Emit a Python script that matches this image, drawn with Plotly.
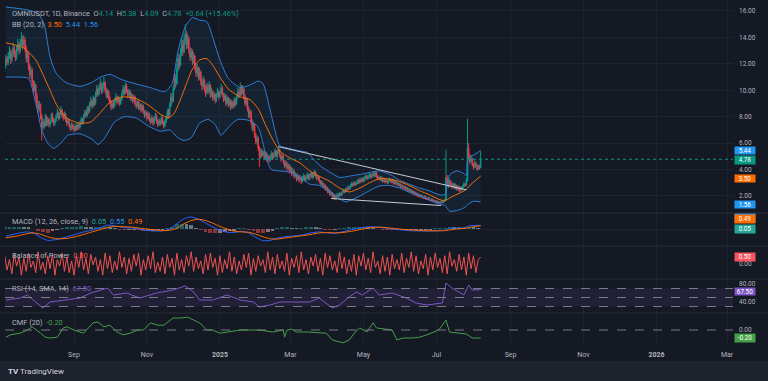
import plotly.graph_objects as go
from plotly.subplots import make_subplots
import pandas as pd

# ---------------- data ----------------
start_date = "2024-07-05"
first_open = 11.6
close = [
11.9,12.4,12.1,12.6,12.9,12.3,12.7,13.2,12.8,12.5,
13.1,13.5,13.0,13.6,13.9,13.4,13.8,13.2,12.4,12.7,
11.8,11.2,11.5,10.6,10.1,10.4,9.6,9.0,8.6,8.9,
8.1,7.2,7.6,7.3,7.9,7.5,7.8,7.4,7.6,8.1,
7.8,7.5,7.7,8.0,8.3,7.9,8.2,8.5,8.1,7.9,
8.2,7.8,7.5,7.7,7.3,7.1,7.4,7.2,7.0,7.3,
7.1,7.4,7.2,7.5,7.8,7.6,8.0,8.3,8.1,8.6,
8.4,8.9,9.2,8.8,9.4,9.0,9.6,10.1,9.7,10.2,
10.5,9.9,10.3,10.6,10.0,9.6,9.9,9.4,9.1,8.7,
9.0,8.8,9.2,9.5,9.1,9.4,9.0,9.3,9.7,10.1,
9.8,10.3,10.0,9.6,9.9,9.4,9.6,9.2,9.5,9.0,
8.8,9.1,8.7,8.9,8.5,8.8,8.4,8.1,8.3,7.9,
8.2,7.8,7.6,7.9,7.5,7.8,8.1,7.7,7.4,7.7,
7.5,7.9,7.6,7.3,7.6,7.9,8.4,8.1,8.8,9.5,
9.2,10.1,10.9,10.5,11.6,12.4,11.9,12.8,13.5,12.9,
13.8,14.2,13.4,13.9,13.1,12.5,12.9,12.2,12.6,11.8,
11.3,11.7,11.0,11.4,10.7,10.3,10.8,10.2,9.8,10.3,
9.9,10.4,9.6,9.9,9.4,9.7,9.2,9.6,9.9,9.5,
9.8,10.2,9.7,9.3,9.6,9.0,9.4,8.9,9.2,8.7,
9.1,8.8,9.3,9.0,9.5,9.9,9.6,10.2,9.8,10.1,
9.5,9.0,9.3,8.6,8.1,8.4,7.6,7.1,7.4,6.6,
6.1,6.4,5.6,5.0,5.4,5.1,5.3,4.9,5.2,4.8,
5.0,4.7,4.9,5.2,4.9,5.1,5.4,5.0,5.3,5.5,
5.1,4.8,5.0,4.6,4.3,4.5,4.1,4.3,3.9,4.1,
3.7,3.9,3.5,3.6,3.3,3.5,3.2,3.4,3.1,3.3,
3.5,3.2,3.4,3.6,3.3,3.5,3.7,3.4,3.6,3.8,
3.5,3.3,3.4,3.1,2.9,3.0,2.7,2.8,2.5,2.6,
2.3,2.4,2.1,2.2,1.95,2.05,1.85,1.95,2.1,1.98,
2.15,2.05,2.25,2.4,2.3,2.5,2.45,2.65,2.55,2.75,
2.9,2.8,3.0,2.85,2.95,3.15,3.0,3.25,3.1,3.3,
3.15,3.35,3.5,3.3,3.45,3.6,3.4,3.55,3.7,3.5,
3.75,3.45,3.3,3.4,3.2,3.35,3.1,3.25,3.05,3.2,
3.0,3.15,3.25,3.05,3.2,2.95,3.1,2.9,3.0,2.8,
2.9,2.7,2.8,2.6,2.7,2.5,2.6,2.4,2.5,2.3,
2.4,2.2,2.3,2.1,2.2,2.0,2.1,1.95,2.05,1.9,
1.85,1.95,1.8,1.75,1.85,1.7,1.65,1.75,1.6,1.65,
1.55,1.6,1.5,1.55,1.48,1.58,1.52,1.6,1.7,3.4,
3.0,2.8,3.1,2.9,2.7,2.9,2.6,2.8,2.5,2.7,
2.4,2.6,2.5,2.7,2.9,2.8,3.2,5.6,5.0,4.6,
4.8,4.4,4.2,4.5,4.3,4.0,4.25,4.14,4.78]
high = [
12.2,12.7,12.6,12.9,13.3,13.1,13.0,13.6,13.4,13.0,
13.4,13.9,13.7,13.9,14.4,14.1,14.2,14.0,13.4,13.0,
12.9,12.0,11.8,11.7,10.8,10.7,10.5,9.8,9.2,9.2,
9.0,8.2,7.9,7.8,8.2,8.1,8.0,7.9,7.8,8.3,
8.3,7.9,7.9,8.2,8.6,8.4,8.4,8.8,8.6,8.3,
8.4,8.3,7.9,7.9,7.8,7.4,7.6,7.5,7.3,7.5,
7.4,7.6,7.5,7.7,8.0,7.9,8.2,8.5,8.5,8.8,
8.8,9.1,9.5,9.3,9.6,9.5,9.9,10.4,10.3,10.5,
10.9,10.6,10.6,11.0,10.7,10.2,10.1,10.0,9.6,9.2,
9.2,9.2,9.4,9.8,9.6,9.6,9.5,9.5,9.9,10.4,
10.3,10.6,10.5,10.1,10.1,10.0,9.8,9.7,9.7,9.6,
9.2,9.3,9.2,9.1,9.0,9.0,8.9,8.5,8.5,8.4,
8.4,8.3,7.9,8.1,8.0,8.0,8.3,8.2,7.8,7.9,
7.8,8.1,8.0,7.7,7.8,8.1,8.6,8.6,9.1,9.8,
9.8,10.4,11.3,11.2,12.0,12.8,12.7,13.2,14.0,13.8,
14.3,15.0,14.5,14.3,14.1,13.3,13.2,13.1,12.9,12.7,
12.0,12.0,11.8,11.7,11.5,10.9,11.1,10.9,10.4,10.6,
10.5,10.7,10.5,10.2,10.0,9.9,9.8,9.8,10.2,10.0,
10.0,10.5,10.3,9.8,9.8,9.7,9.6,9.5,9.4,9.3,
9.3,9.2,9.5,9.4,9.7,10.2,10.1,10.6,10.4,10.4,
10.2,9.7,9.5,9.4,8.8,8.6,8.5,7.8,7.6,7.5,
6.8,6.6,6.5,5.8,5.6,5.6,5.5,5.4,5.4,5.3,
5.2,5.1,5.1,5.4,5.3,5.3,5.6,5.5,5.5,5.8,
5.6,5.2,5.2,5.1,4.7,4.7,4.6,4.5,4.4,4.3,
4.2,4.1,4.0,3.8,3.7,3.7,3.6,3.6,3.5,3.5,
3.7,3.6,3.6,3.8,3.7,3.7,3.9,3.8,3.8,4.0,
3.9,3.6,3.6,3.5,3.2,3.2,3.1,2.95,2.9,2.75,
2.7,2.55,2.5,2.35,2.3,2.2,2.15,2.1,2.25,2.2,
2.3,2.25,2.4,2.55,2.5,2.65,2.6,2.8,2.75,2.9,
3.05,3.0,3.15,3.1,3.1,3.3,3.25,3.4,3.35,3.45,
3.4,3.5,3.65,3.6,3.6,3.75,3.7,3.7,3.85,3.8,
3.9,3.85,3.55,3.55,3.5,3.5,3.4,3.4,3.3,3.35,
3.25,3.3,3.4,3.3,3.35,3.25,3.2,3.15,3.1,3.05,
3.0,2.95,2.9,2.85,2.8,2.75,2.7,2.65,2.6,2.55,
2.5,2.45,2.4,2.35,2.3,2.25,2.2,2.15,2.15,2.1,
1.97,2.05,2.0,1.87,1.95,1.9,1.76,1.85,1.8,1.72,
1.7,1.68,1.65,1.62,1.6,1.66,1.63,1.68,1.82,5.5,
3.6,3.2,3.3,3.2,3.0,3.05,2.95,2.95,2.85,2.85,
2.75,2.75,2.7,2.85,3.05,3.0,3.4,7.85,6.0,5.2,
5.1,4.9,4.5,4.7,4.6,4.4,4.4,4.35,5.38]
low = [
11.4,11.7,11.9,11.9,12.4,12.0,12.1,12.5,12.5,12.2,
12.3,12.9,12.7,12.8,13.3,13.1,13.2,12.9,12.1,12.1,
11.5,10.9,10.9,10.3,9.8,9.9,9.3,8.7,8.3,8.4,
7.8,6.2,7.0,7.1,7.2,7.3,7.3,7.2,7.2,7.5,
7.6,7.3,7.3,7.6,7.9,7.7,7.8,8.1,7.9,7.7,
7.8,7.6,7.3,7.4,7.1,6.9,7.0,7.0,6.8,6.9,
6.9,7.0,7.0,7.1,7.4,7.4,7.5,7.9,7.9,8.0,
8.2,8.3,8.8,8.6,8.7,8.8,8.9,9.5,9.5,9.6,
10.0,9.7,9.8,10.1,9.8,9.4,9.4,9.2,8.9,8.5,
8.6,8.6,8.7,9.1,8.9,9.0,8.8,8.9,9.2,9.6,
9.6,9.7,9.8,9.4,9.5,9.2,9.2,9.0,9.1,8.8,
8.6,8.7,8.5,8.5,8.3,8.4,8.2,7.9,8.0,7.7,
7.8,7.6,7.4,7.5,7.3,7.4,7.7,7.5,7.2,7.3,
7.3,7.4,7.4,7.1,7.2,7.5,7.8,7.9,8.0,8.7,
9.0,9.1,10.0,10.2,10.4,11.4,11.6,11.8,12.6,12.6,
12.8,13.5,13.1,13.2,12.8,12.2,12.3,11.9,12.0,11.5,
11.0,11.1,10.7,10.8,10.4,10.0,10.1,9.9,9.5,9.7,
9.7,9.8,9.4,9.5,9.2,9.3,9.0,9.1,9.5,9.3,
9.4,9.7,9.5,9.1,9.2,8.8,8.9,8.7,8.8,8.5,
8.6,8.6,8.7,8.8,8.9,9.4,9.4,9.5,9.6,9.7,
9.3,8.8,8.8,8.4,7.9,7.9,7.4,6.9,6.9,6.4,
5.9,5.9,5.4,4.2,4.8,4.9,5.0,4.7,4.8,4.6,
4.7,4.5,4.6,4.8,4.7,4.8,5.0,4.9,4.9,5.2,
4.9,4.6,4.7,4.4,4.1,4.2,3.9,4.0,3.7,3.8,
3.5,3.6,3.3,3.4,3.1,3.2,3.0,3.1,2.9,3.0,
3.2,3.1,3.1,3.3,3.2,3.2,3.4,3.3,3.3,3.5,
3.4,3.2,3.2,3.0,2.8,2.8,2.6,2.6,2.4,2.4,
2.2,2.2,2.0,2.0,1.8,1.85,1.7,1.75,1.9,1.9,
1.92,1.98,2.0,2.2,2.2,2.25,2.35,2.4,2.45,2.5,
2.7,2.7,2.75,2.75,2.8,2.9,2.9,2.95,3.0,3.05,
3.05,3.1,3.3,3.2,3.25,3.4,3.3,3.35,3.5,3.4,
3.45,3.35,3.2,3.25,3.1,3.15,3.0,3.05,2.95,3.0,
2.9,2.95,3.1,2.95,3.0,2.85,2.9,2.8,2.85,2.7,
2.75,2.6,2.65,2.5,2.55,2.4,2.45,2.3,2.35,2.2,
2.25,2.1,2.15,2.0,2.05,1.92,1.95,1.88,1.9,1.82,
1.78,1.8,1.72,1.68,1.7,1.63,1.58,1.6,1.53,1.55,
1.48,1.5,1.43,1.45,1.42,1.44,1.46,1.48,1.56,1.65,
2.8,2.6,2.7,2.75,2.55,2.6,2.5,2.5,2.4,2.45,
2.3,2.35,2.4,2.45,2.65,2.7,2.75,3.1,4.7,4.4,
4.5,4.2,4.0,4.1,4.1,3.9,3.95,4.0,4.09]

# Bollinger Bands (20, 2) read at sample days (day index from start_date)
bb_up_idx = [1,18,28,33,38,43,51,63,73,80,88,98,109,122,134,140,145,151,157,163,169,174,180,187,197,205,212,216,222,227,230,238,247,253,259,265,272,280,288,301,313,323,330,338,347,355,363,368,372,378,384,386,387,390,394,398]
bb_upper = [16.3,16.1,15.8,15.0,12.5,11.3,10.6,10.3,10.6,11.0,11.2,10.8,10.5,10.2,9.9,10.5,13.0,14.8,15.5,15.3,15.2,14.0,12.3,10.9,10.2,10.4,10.7,10.5,8.5,6.6,5.8,5.6,5.4,5.3,4.7,4.2,3.8,3.4,3.5,3.7,3.9,3.6,3.2,2.9,2.6,2.4,2.1,2.1,3.6,3.9,3.7,3.55,4.6,5.0,5.2,5.44]
bb_mid_idx = [1,16,26,33,38,44,52,63,72,80,88,98,109,120,130,137,142,147,152,157,163,169,174,180,187,197,205,212,218,224,230,238,247,255,263,272,280,288,297,305,313,321,330,338,347,355,363,368,374,380,386,390,394,398]
bb_basis = [13.6,13.2,12.3,11.0,10.0,8.8,7.9,7.5,7.6,8.3,9.1,9.5,9.4,8.9,8.2,7.9,8.3,9.3,10.5,11.6,12.3,12.4,11.9,11.0,10.1,9.5,9.3,8.6,7.4,6.3,5.4,4.9,4.5,3.9,3.5,3.1,2.6,2.3,2.6,3.0,3.3,3.3,3.1,2.8,2.4,2.1,1.75,1.65,1.95,2.2,2.5,2.9,3.2,3.5]
bb_low_idx = [1,12,20,26,31,36,41,47,53,63,73,78,83,92,100,110,120,130,138,145,150,156,163,170,176,181,188,195,205,212,216,219,223,230,238,247,255,263,272,280,285,290,297,305,313,321,330,338,347,355,363,368,372,378,384,388,392,398]
bb_lower = [11.0,11.0,10.9,9.0,7.0,6.0,5.6,6.0,6.6,6.7,6.3,5.9,6.3,7.6,8.0,7.9,7.3,6.9,7.0,6.4,6.2,6.4,7.5,7.8,7.4,6.6,7.3,7.8,7.7,7.2,6.0,4.8,4.0,3.9,3.8,3.4,2.9,2.8,2.3,1.8,1.55,1.7,2.0,2.4,2.75,2.8,2.6,2.3,2.0,1.7,1.4,1.3,0.85,0.9,1.1,1.4,1.6,1.56]

# hand-drawn trend lines (falling wedge)
trend_upper_idx = [229, 386]
trend_upper_val = [5.73, 2.47]
trend_lower_idx = [273, 365]
trend_lower_val = [1.81, 1.28]

# MACD (12, 26, close, 9)
macd_idx = [1,10,18,24,30,36,44,52,63,72,80,86,93,100,108,116,124,131,138,144,150,156,162,168,174,180,186,192,198,204,210,216,222,228,234,240,248,256,263,270,276,282,290,298,306,314,322,330,338,346,354,362,368,372,378,384,388,392,398]
macd_line = [-1.1,-0.7,-0.45,-0.6,-1.3,-1.75,-1.6,-1.2,-0.6,-0.2,0.2,0.6,0.45,0.2,0.15,-0.15,-0.3,-0.3,0.0,0.8,1.6,1.85,1.5,0.9,0.3,-0.2,-0.5,-0.55,-0.35,-0.6,-1.3,-1.8,-1.75,-1.4,-1.2,-1.1,-0.95,-0.6,-0.45,-0.6,-0.65,-0.45,-0.1,0.2,0.35,0.25,0.05,-0.1,-0.25,-0.3,-0.3,-0.25,-0.2,0.1,0.2,0.15,0.45,0.55,0.55]
macd_signal = [-1.35,-1.1,-0.75,-0.6,-0.8,-1.2,-1.5,-1.45,-1.0,-0.5,-0.1,0.25,0.4,0.35,0.25,0.05,-0.1,-0.25,-0.2,0.1,0.8,1.3,1.5,1.3,0.9,0.4,0.0,-0.35,-0.45,-0.5,-0.8,-1.2,-1.5,-1.55,-1.4,-1.25,-1.05,-0.85,-0.6,-0.55,-0.6,-0.55,-0.35,-0.05,0.2,0.28,0.15,0.0,-0.12,-0.22,-0.28,-0.28,-0.25,-0.15,0.0,0.1,0.2,0.35,0.49]
hist_idx = list(range(0, 400, 4))
macd_hist = [0.25,0.3,0.35,0.38,0.33,0.2,0.0,-0.3,-0.5,-0.55,
-0.35,-0.1,0.1,0.25,0.3,0.35,0.4,0.35,0.3,0.3,
0.3,0.35,0.2,0.05,-0.05,-0.15,-0.1,-0.1,-0.15,-0.2,
-0.2,-0.2,-0.1,-0.05,0.1,0.35,0.7,0.8,0.75,0.55,
0.15,-0.15,-0.4,-0.55,-0.6,-0.6,-0.5,-0.3,-0.2,0.05,
0.1,-0.1,-0.35,-0.55,-0.6,-0.4,-0.2,0.1,0.2,0.2,
0.15,0.1,0.1,0.2,0.25,0.2,0.1,-0.05,-0.1,-0.05,
0.05,0.15,0.2,0.25,0.25,0.25,0.2,0.1,0.0,-0.05,
-0.1,-0.12,-0.12,-0.12,-0.12,-0.1,-0.08,-0.06,-0.03,-0.01,
0.02,0.03,0.05,0.25,0.2,0.15,0.05,0.25,0.2,0.06]

# Balance of Power (every second day)
bop_idx = list(range(0, 400, 2))
bop = [0.6,-0.5,0.3,-0.8,0.7,-0.2,0.5,-0.9,0.4,-0.6,
0.8,-0.3,0.2,-0.7,0.9,-0.5,0.1,-0.8,0.6,-0.4,
0.7,-0.9,0.3,-0.2,0.8,-0.6,0.5,-0.7,0.2,-0.9,
0.6,-0.3,0.9,-0.5,0.4,-0.8,0.7,-0.1,0.5,-0.6,
0.3,-0.9,0.8,-0.4,0.6,-0.7,0.2,-0.5,0.9,-0.3,
0.5,-0.8,0.4,-0.6,0.7,-0.2,0.8,-0.9,0.3,-0.5,
0.6,-0.4,0.9,-0.7,0.1,-0.6,0.5,-0.8,0.7,-0.3,
0.4,-0.9,0.8,-0.5,0.3,-0.7,0.6,-0.2,0.9,-0.6,
0.5,-0.4,0.2,-0.8,0.7,-0.5,0.8,-0.3,0.4,-0.9,
0.6,-0.7,0.3,-0.4,0.9,-0.6,0.5,-0.8,0.2,-0.5,
0.7,-0.3,0.8,-0.9,0.4,-0.6,0.6,-0.2,0.3,-0.7,
0.9,-0.5,0.5,-0.8,0.7,-0.4,0.2,-0.6,0.8,-0.9,
0.4,-0.3,0.6,-0.7,0.9,-0.5,0.3,-0.8,0.5,-0.2,
0.7,-0.6,0.4,-0.9,0.8,-0.3,0.6,-0.5,0.2,-0.7,
0.9,-0.4,0.5,-0.8,0.3,-0.6,0.7,-0.9,0.6,-0.2,
0.8,-0.5,0.4,-0.7,0.9,-0.3,0.2,-0.8,0.6,-0.6,
0.5,-0.9,0.7,-0.4,0.3,-0.5,0.8,-0.7,0.4,-0.3,
0.9,-0.6,0.6,-0.8,0.2,-0.4,0.7,-0.9,0.5,-0.5,
0.8,-0.3,0.4,-0.7,0.6,-0.8,0.9,-0.2,0.3,-0.6,
0.7,-0.5,0.5,-0.9,0.8,-0.4,0.6,-0.7,0.3,0.5]

# RSI (14, SMA, 14)
rsi_idx = [1,13,19,24,32,38,52,63,72,80,86,91,102,113,127,141,151,158,163,174,186,197,208,213,222,230,241,255,263,274,280,288,294,299,308,313,324,336,344,353,366,369,374,380,384,388,391,398]
rsi = [44.4,48.9,55.6,44.4,26.7,40.0,44.4,48.9,60.0,66.7,71.1,55.6,60.0,48.9,60.0,66.7,75.6,62.2,44.4,44.4,55.6,44.4,40.0,28.9,33.3,40.0,40.0,40.0,48.9,26.7,33.3,51.1,62.2,55.6,71.1,55.6,60.0,48.9,37.8,33.3,37.8,82.2,71.1,62.2,55.6,77.8,66.7,67.5]

# CMF (20)
cmf_idx = [1,5,13,19,23,27,30,34,38,44,49,52,58,66,74,78,83,88,94,99,105,111,116,122,128,133,141,147,153,158,163,169,174,180,188,197,208,213,224,233,234,236,240,244,253,263,269,274,283,288,294,297,303,308,311,319,324,328,333,341,347,353,358,363,369,372,380,386,391,398]
cmf = [-0.18,-0.12,-0.08,0.0,0.08,0.0,-0.08,-0.18,-0.2,-0.18,0.05,0.08,0.0,-0.08,0.18,0.2,0.08,0.12,-0.05,-0.12,-0.08,0.0,0.0,0.18,0.12,0.12,0.3,0.3,0.32,0.25,0.18,0.0,0.0,-0.08,-0.05,0.0,0.0,0.0,-0.05,0.0,-0.18,0.0,0.02,-0.05,-0.05,-0.08,-0.08,-0.25,-0.32,-0.25,-0.02,0.05,-0.05,0.18,0.05,0.02,0.0,-0.25,-0.2,-0.2,-0.18,-0.12,-0.05,0.0,0.25,-0.05,-0.08,-0.1,-0.2,-0.2]

month_ticks = ["2024-09-01","2024-11-01","2025-01-01","2025-03-01","2025-05-01","2025-07-01","2025-09-01","2025-11-01","2026-01-01","2026-03-01"]
month_labels = ["Sep","Nov","<b>2025</b>","Mar","May","Jul","Sep","Nov","<b>2026</b>","Mar"]
price_ticks = [2,4,6,8,10,12,14,16]
last_values = {"close": 4.78}

# ---------------- styling ----------------
W, H = 768, 381
BG = "#151924"
GRID = "#1f2330"
SEP = "#2a2e39"
TXT = "#b2b5be"
FONT = "Roboto, 'Noto Sans', sans-serif"
UP, DN = "#089981", "#f23645"
BLUE, ORANGE = "#2f7fd8", "#ff6d00"

def py(y):  # pixel row -> paper fraction
    return 1 - y / H

def px(x):
    return x / W

dates = pd.date_range(start_date, periods=len(close), freq="D")
open_ = [first_open] + close[:-1]
def d(idx):
    return [dates[i] for i in idx]

fig = make_subplots(rows=5, cols=1, shared_xaxes=True, vertical_spacing=0)

fig.add_trace(go.Scatter(x=d(bb_up_idx), y=bb_upper, mode="lines", line=dict(color=BLUE, width=1, shape="spline", smoothing=0.6), hoverinfo="skip"), 1, 1)
fig.add_trace(go.Scatter(x=d(bb_low_idx), y=bb_lower, mode="lines", line=dict(color=BLUE, width=1, shape="spline", smoothing=0.6), fill="tonexty", fillcolor="rgba(33,150,243,0.07)", hoverinfo="skip"), 1, 1)
fig.add_trace(go.Scatter(x=d(bb_mid_idx), y=bb_basis, mode="lines", line=dict(color=ORANGE, width=1, shape="spline", smoothing=0.6), hoverinfo="skip"), 1, 1)

fig.add_trace(go.Candlestick(x=dates, open=open_, high=high, low=low, close=close,
    increasing=dict(line=dict(color=UP, width=1), fillcolor=UP),
    decreasing=dict(line=dict(color=DN, width=1), fillcolor=DN),
    whiskerwidth=0, hoverinfo="skip"), 1, 1)

fig.add_trace(go.Scatter(x=d(trend_upper_idx), y=trend_upper_val, mode="lines", line=dict(color="#c5cad3", width=1), hoverinfo="skip"), 1, 1)
fig.add_trace(go.Scatter(x=d(trend_lower_idx), y=trend_lower_val, mode="lines", line=dict(color="#c5cad3", width=1), hoverinfo="skip"), 1, 1)

hcol = []
prev = 0
for v in macd_hist:
    if v >= 0:
        hcol.append("#26a69a" if v >= prev else "#b2dfdb")
    else:
        hcol.append("#ff5252" if v < prev else "#ffcdd2")
    prev = v
fig.add_trace(go.Bar(x=d(hist_idx), y=macd_hist, marker=dict(color=hcol, line=dict(width=0)), opacity=0.5, width=3.2*86400000, hoverinfo="skip"), 2, 1)
fig.add_trace(go.Scatter(x=d(macd_idx), y=macd_line, mode="lines", line=dict(color="#2962ff", width=1, shape="spline", smoothing=0.5), hoverinfo="skip"), 2, 1)
fig.add_trace(go.Scatter(x=d(macd_idx), y=macd_signal, mode="lines", line=dict(color=ORANGE, width=1, shape="spline", smoothing=0.5), hoverinfo="skip"), 2, 1)

fig.add_trace(go.Scatter(x=d(bop_idx), y=bop, mode="lines", line=dict(color="#ef5350", width=1), hoverinfo="skip"), 3, 1)
fig.add_trace(go.Scatter(x=d(rsi_idx), y=rsi, mode="lines", line=dict(color="#7e57c2", width=1), hoverinfo="skip"), 4, 1)
fig.add_trace(go.Scatter(x=d(cmf_idx), y=cmf, mode="lines", line=dict(color="#43a047", width=1), hoverinfo="skip"), 5, 1)

# ---------------- layout ----------------
x_range = ["2024-07-05 07:00", "2026-03-06"]
xdom = [px(5), px(733)]
for r in range(1, 6):
    fig.update_xaxes(row=r, col=1, domain=xdom, range=x_range, tickvals=month_ticks, ticktext=month_labels,
                     showgrid=True, gridcolor=GRID, gridwidth=1, zeroline=False, showline=False,
                     rangeslider_visible=False, showticklabels=(r == 5),
                     tickfont=dict(color=TXT, size=7, family=FONT), ticks="")
fig.update_xaxes(row=5, col=1, ticklabelstandoff=4)

ycommon = dict(side="right", zeroline=False, showline=False, ticks="", automargin=False,
               tickfont=dict(color=TXT, size=6.5, family=FONT), gridcolor=GRID, ticklabelstandoff=5)
fig.update_yaxes(row=1, col=1, domain=[py(213), py(0)], range=[0.713, 16.832], tickvals=price_ticks,
                 ticktext=["%.2f" % v for v in price_ticks], showgrid=True, **ycommon)
fig.update_yaxes(row=2, col=1, domain=[py(246), py(213)], range=[-2.615, 2.46], tickvals=[0],
                 showticklabels=False, showgrid=True, **ycommon)
fig.update_yaxes(row=3, col=1, domain=[py(279), py(246)], range=[-1.19, 1.346], tickvals=[0],
                 ticktext=["0.00"], showgrid=False, **ycommon)
fig.update_yaxes(row=4, col=1, domain=[py(313), py(279)], range=[15.6, 91.1], tickvals=[40, 80],
                 ticktext=["40.00", "80.00"], showgrid=False, **ycommon)
fig.update_yaxes(row=5, col=1, domain=[py(345), py(313)], range=[-0.375, 0.425], tickvals=[0],
                 ticktext=["0.00"], showgrid=False, **ycommon)

shapes = []
shapes.append(dict(type="rect", xref="paper", yref="paper", x0=0, x1=1, y0=0, y1=py(361), fillcolor="#1e222d", line=dict(width=0), layer="below"))
for yy in [213, 246, 279, 313]:
    shapes.append(dict(type="line", xref="paper", yref="paper", x0=0, x1=1, y0=py(yy), y1=py(yy), line=dict(color=SEP, width=1)))
shapes.append(dict(type="rect", xref="paper", yref="y4", x0=xdom[0], x1=xdom[1], y0=30, y1=70, fillcolor="rgba(126,87,194,0.12)", line=dict(width=0), layer="below"))
for lv in [70, 50, 30]:
    shapes.append(dict(type="line", xref="paper", yref="y4", x0=xdom[0], x1=xdom[1], y0=lv, y1=lv, line=dict(color="#787b86", width=1, dash="dash")))
shapes.append(dict(type="line", xref="paper", yref="y5", x0=xdom[0], x1=xdom[1], y0=0, y1=0, line=dict(color="#787b86", width=1, dash="dash")))
shapes.append(dict(type="line", xref="paper", yref="y", x0=xdom[0], x1=xdom[1], y0=last_values["close"], y1=last_values["close"], line=dict(color=UP, width=1, dash="dot")))

ann = []
def legend(y, text):
    ann.append(dict(x=px(10), y=py(y), xref="paper", yref="paper", text=text, showarrow=False,
                    xanchor="left", yanchor="middle", font=dict(color=TXT, size=7.4, family=FONT)))
def c(col, t):
    return "<span style='color:%s'>%s</span>" % (col, t)

legend(14, "OMNIUSDT, 1D, Binance  O" + c(UP, "4.14") + "  H" + c(UP, "5.38") + "  L" + c(UP, "4.09") + "  C" + c(UP, "4.78") + "  " + c(UP, "+0.64 (+15.46%)"))
legend(24, "BB (20, 2)  " + c(ORANGE, "3.50") + "  " + c("#2196f3", "5.44") + "  " + c("#2196f3", "1.56"))
legend(221.5, "MACD (12, 26, close, 9)  " + c("#26a69a", "0.05") + "  " + c("#2196f3", "0.55") + "  " + c(ORANGE, "0.49"))
legend(255, "Balance of Power  " + c("#ef5350", "0.50"))
legend(288.5, "RSI (14, SMA, 14)  " + c("#7e57c2", "67.50"))
legend(322, "CMF (20)  " + c("#43a047", "-0.20"))

def box(y, text, col, h=8):
    ann.append(dict(x=px(734), y=py(y), xref="paper", yref="paper", text=text, showarrow=False,
                    xanchor="left", yanchor="middle", bgcolor=col, width=20, height=h, borderpad=0,
                    font=dict(color="white", size=6.3, family=FONT)))
box(150, "5.44", "#2196f3", 7)
box(159.5, "4.78", UP)
box(178.5, "3.50", ORANGE, 7)
box(204, "1.56", "#2196f3", 7)
box(217.5, "0.55", "#2196f3")
box(219, "0.49", ORANGE)
box(228.5, "0.05", "#26a69a")
box(257, "0.50", "#f7525f")
box(291, "67.50", "#7e57c2", 7)
box(338, "-0.20", "#43a047")

ann.append(dict(x=px(6), y=py(371), xref="paper", yref="paper", text="<b>TV</b> TradingView", showarrow=False,
                xanchor="left", yanchor="middle", font=dict(color="#d1d4dc", size=8, family=FONT)))

fig.update_layout(width=W, height=H, margin=dict(l=0, r=0, t=0, b=0), paper_bgcolor=BG, plot_bgcolor=BG,
                  showlegend=False, shapes=shapes, annotations=ann, bargap=0, hovermode=False)

fig.write_html("out.html", config={"displayModeBar": False},
               post_script="document.body.style.margin='0';document.body.style.padding='0';document.body.style.background='%s';" % BG)
